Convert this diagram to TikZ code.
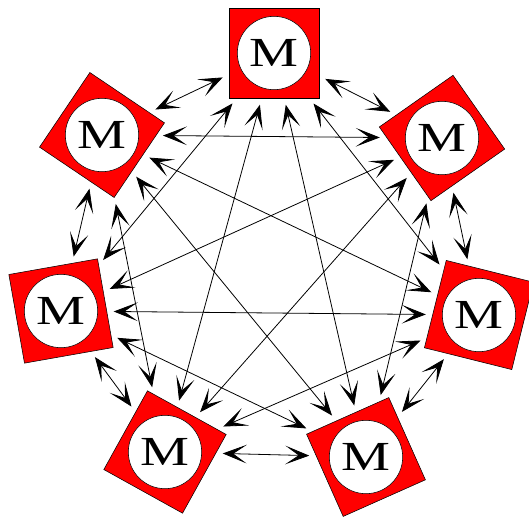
\documentclass[tikz,border=0pt]{standalone}
\usepackage{fontspec}
\setmainfont{Liberation Serif}
\usetikzlibrary{arrows.meta}

\begin{document}
\begin{tikzpicture}[
  x=0.75pt, y=-0.75pt,
  >={Stealth[length=18pt, width=14pt, inset=10pt]},
  mbox/.style={draw=black, fill=red, minimum size=67.5pt, line width=0.4pt,
               inner sep=0pt},
  mcircle/.style={circle, draw=black, fill=white, minimum size=55pt,
                  line width=0.4pt, inner sep=0pt,
                  font=\fontsize{31}{33}\selectfont},
  link/.style={<->, line width=0.6pt, shorten <=5pt, shorten >=5pt}
]
  \useasboundingbox (0,0) rectangle (529,518);

  % the seven M boxes round the ring
  \foreach \i/\x/\y/\r in {1/274/53/0, 2/442/138/35, 3/479/315/-14,
                           4/366/457/24, 5/165/452/-29, 6/61/311/10,
                           7/102/135/-34} {
    \node[mbox, rotate=\r] (m\i) at (\x,\y) {};
    \node[mcircle] (c\i) at (\x,\y) {\scalebox{1.33}[1]{M}};
  }

  % every box linked to every other one
  \foreach \a in {1,...,6} {
    \pgfmathtruncatemacro{\s}{\a+1}
    \foreach \b in {\s,...,7} {
      \draw[link] (m\a) -- (m\b);
    }
  }
\end{tikzpicture}
\end{document}
